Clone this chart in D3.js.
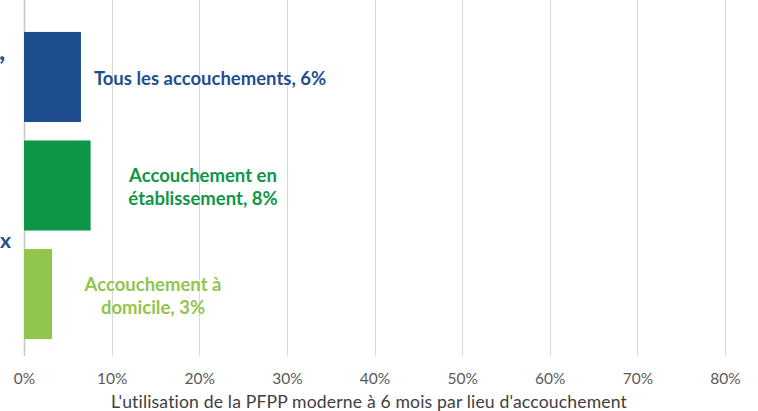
<!DOCTYPE html>
<html>
<head>
<meta charset="utf-8">
<script src="https://cdn.jsdelivr.net/npm/d3@7"></script>
<style>
  body { margin: 0; background: #fff; }
  svg { display: block; }
</style>
</head>
<body>
<svg id="chart" width="758" height="411"></svg>
<script>
// data
let categories = ['Tous les accouchements', 'Accouchement en établissement', 'Accouchement à domicile']
let values = [6.5, 7.6, 3.2]
let labelLines = [
    ['Tous les accouchements, 6%'],
    ['Accouchement en', 'établissement, 8%'],
    ['Accouchement à', 'domicile, 3%']
]
let tickValues = [0, 10, 20, 30, 40, 50, 60, 70, 80]
let axisTitle = "L'utilisation de la PFPP moderne à 6 mois par lieu d'accouchement"

let colors = ['#1f4e8f', '#0f9548', '#92c54b']
let labelX = [210, 203, 153]   // label centres in pixels

let svg = d3.select('#chart')

let x = d3.scaleLinear()
    .domain([0, 80])
    .range([24, 725])

let y = d3.scaleBand()
    .domain(categories)
    .range([13.5, 357.5])
    .paddingInner(0.17)
    .paddingOuter(0.17)

// gridlines
svg.append('g')
    .selectAll('line')
    .data(tickValues)
    .enter()
    .append('line')
    .attr('x1', (d) => Math.round(x(d)) + 0.5)
    .attr('x2', (d) => Math.round(x(d)) + 0.5)
    .attr('y1', 0)
    .attr('y2', 356)
    .attr('stroke', (d) => d == 0 ? '#c8c8c8' : '#d9d9d9')
    .attr('stroke-width', (d) => d == 0 ? 1.5 : 1)

// bars
svg.append('g')
    .selectAll('rect')
    .data(values)
    .enter()
    .append('rect')
    .attr('x', x(0))
    .attr('y', (d, i) => y(categories[i]))
    .attr('width', (d) => x(d) - x(0))
    .attr('height', y.bandwidth())
    .attr('fill', (d, i) => colors[i])

// data labels
labelLines.forEach((lines, i) => {
    let mid = y(categories[i]) + y.bandwidth() / 2
    let lh = 23
    let t = svg.append('text')
        .attr('text-anchor', 'middle')
        .attr('font-family', 'Lato, "Open Sans", sans-serif')
        .attr('font-weight', 'bold')
        .attr('font-size', '18.5px')
        .attr('fill', colors[i])
    lines.forEach((line, j) => {
        t.append('tspan')
            .attr('x', labelX[i])
            .attr('y', mid + 8 + (j - (lines.length - 1) / 2) * lh)
            .text(line)
    })
})

// fragments of the category text visible at the left edge
svg.append('text')
    .attr('x', -1)
    .attr('y', 60)
    .attr('font-family', 'Lato, sans-serif')
    .attr('font-weight', 'bold')
    .attr('font-size', '27px')
    .attr('fill', '#1f4e8f')
    .text(',')
svg.append('text')
    .attr('x', 0)
    .attr('y', 248)
    .attr('font-family', 'Lato, sans-serif')
    .attr('font-weight', 'bold')
    .attr('font-size', '21px')
    .attr('fill', '#1f4e8f')
    .text('x')

// x axis
let xAxis = d3.axisBottom(x)
    .tickValues(tickValues)
    .tickSize(0)
    .tickPadding(0)
    .tickFormat((d) => d + '%')

let axisG = svg.append('g')
    .attr('transform', 'translate(0,373)')
    .call(xAxis)
axisG.select('.domain').remove()
axisG.selectAll('text')
    .attr('font-family', 'Lato, "Open Sans", sans-serif')
    .attr('font-size', '15.5px')
    .attr('fill', '#595959')

svg.append('text')
    .attr('x', 369)
    .attr('y', 408)
    .attr('text-anchor', 'middle')
    .attr('font-family', 'Lato, "Open Sans", sans-serif')
    .attr('font-size', '17.6px')
    .attr('letter-spacing', '0.15px')
    .attr('fill', '#404040')
    .text(axisTitle)
</script>
</body>
</html>
